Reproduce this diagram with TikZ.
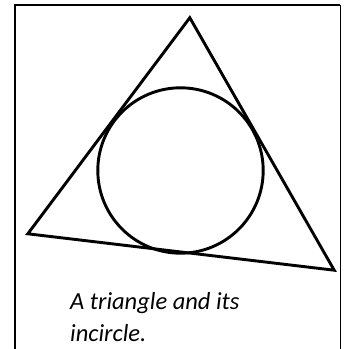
\documentclass[tikz,border=0pt]{standalone}
\usepackage{fontspec}
\newfontfamily\capfont{Carlito}

\begin{document}
\begin{tikzpicture}[
  x=1pt, y=1pt,
  frame/.style={line width=1.8pt},
  side/.style={line width=2.9pt, line join=miter},
  caption/.style={font=\capfont\itshape\fontsize{24.5}{33}\selectfont, align=left, anchor=base west, inner sep=0pt}
]
\useasboundingbox (0,0) rectangle (346,349);

% cell border (open at the bottom)
\draw[frame] (15,0) -- (15,344) -- (340,344);
\draw[line width=0.9pt] (340,344) -- (340,0);

% triangle and its incircle
\coordinate (apex) at (189.8,331.3);
\coordinate (left) at (27.8,115.2);
\coordinate (right) at (334.2,78.8);
\draw[side] (apex) -- (left) -- (right) -- cycle;
\draw[side] (180.5,178.5) circle (82.7);

% base anchor sits on the last line
\node[caption] (cap) at (70,7) {A triangle and its\\incircle.};

\end{tikzpicture}
\end{document}
